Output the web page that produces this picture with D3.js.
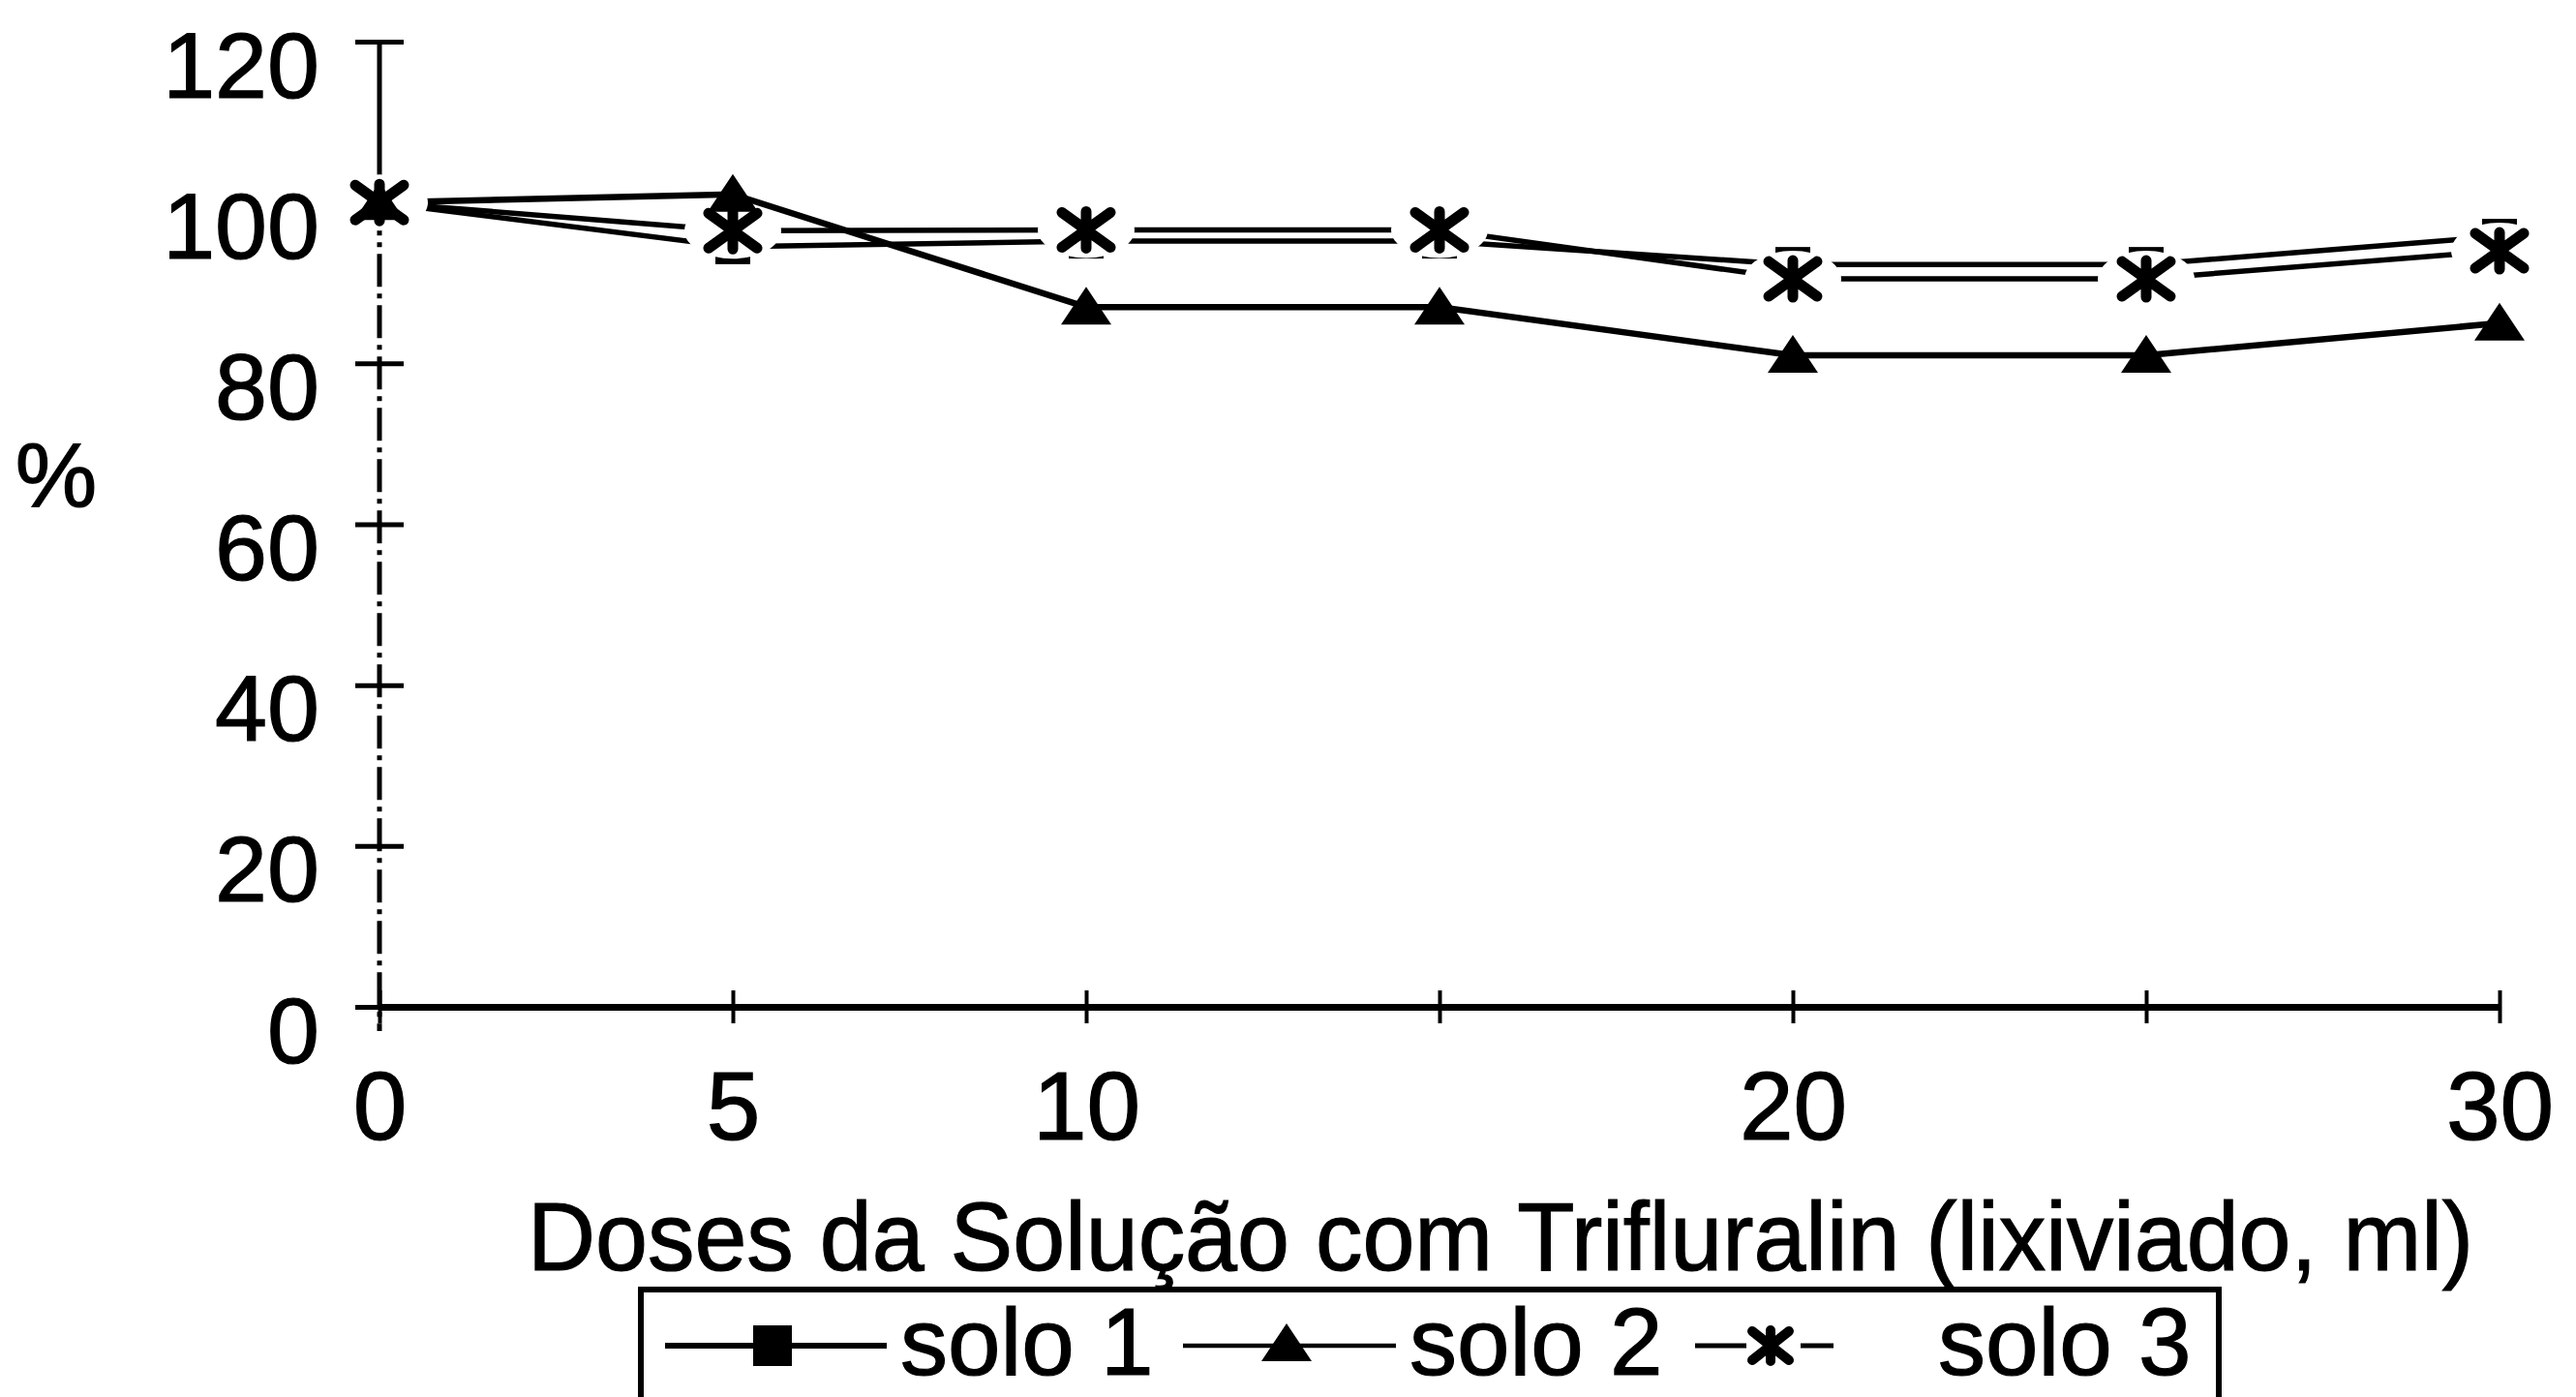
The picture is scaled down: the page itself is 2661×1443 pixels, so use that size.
<!DOCTYPE html>
<html><head><meta charset="utf-8">
<script src="https://cdn.jsdelivr.net/npm/d3@7"></script>
<style>
body{margin:0;background:#fff}
svg{display:block;background:#fff}
text{font-family:"Liberation Sans",Arial,sans-serif;fill:#000;stroke:#000;stroke-width:1.2px}
</style>
</head><body>
<svg id="c" width="2661" height="1443"></svg>
<script>
// ---- data ----
const doses = [0, 5, 10, 15, 20, 25, 30];
const solo1 = [100, 94.5, 95.2, 95.2, 92.3, 92.3, 95.8];
const solo2 = [100, 101, 87, 87, 81, 81, 85];
const solo3 = [100, 96.5, 96.6, 96.6, 90.5, 90.5, 94];
const yTicks = [0, 20, 40, 60, 80, 100, 120];
const xTicks = [0, 5, 10, 15, 20, 25, 30];
const xTickLabels = ["0", "5", "10", "", "20", "", "30"];
const seriesNames = ["solo 1", "solo 2", "solo 3"];
const xTitle = "Doses da Solução com Trifluralin (lixiviado, ml)";
const yTitle = "%";

// ---- layout ----
const svg = d3.select("#c");
const x = d3.scaleLinear().domain([0, 30]).range([392, 2582]);
const y = d3.scaleLinear().domain([0, 120]).range([1040, 43]);

// y axis
const yAxis = d3.axisLeft(y).tickValues(yTicks).tickSize(25).tickSizeOuter(0).tickFormat(d3.format("d"));
const gy = svg.append("g").attr("transform", `translate(${x(0)},0)`).call(yAxis);
gy.select(".domain").remove();
gy.selectAll(".tick line").attr("x1", -25).attr("x2", 25).attr("stroke", "#000").attr("stroke-width", 5);
gy.selectAll(".tick text").attr("x", -62).attr("dy", 0).attr("y", 57)
  .attr("font-size", 97).attr("font-family", "Liberation Sans, Arial, sans-serif").attr("fill", "#000");
// axis line: solid above 100, broken below
svg.append("line").attr("x1", x(0)).attr("x2", x(0)).attr("y1", y(120)).attr("y2", y(100))
  .attr("stroke", "#000").attr("stroke-width", 5);
svg.append("line").attr("x1", x(0)).attr("x2", x(0)).attr("y1", y(100)).attr("y2", y(0) + 25)
  .attr("stroke", "#000").attr("stroke-width", 5).attr("stroke-dasharray", "34,7,5,7");

// x axis
const xAxis = d3.axisBottom(x).tickValues(xTicks).tickSize(15).tickSizeOuter(0)
  .tickFormat((d, i) => xTickLabels[i]);
const gx = svg.append("g").attr("transform", `translate(0,${y(0)})`).call(xAxis);
gx.select(".domain").attr("stroke", "#000").attr("stroke-width", 7);
gx.selectAll(".tick line").attr("y1", -17).attr("y2", 17).attr("stroke", "#000").attr("stroke-width", 4);
gx.selectAll(".tick text").attr("y", 137).attr("dy", 0)
  .attr("font-size", 100).attr("font-family", "Liberation Sans, Arial, sans-serif").attr("fill", "#000");

// titles
svg.append("text").attr("x", 1550).attr("y", 1312).attr("text-anchor", "middle")
  .attr("font-size", 100).attr("textLength", 2010).attr("lengthAdjust", "spacingAndGlyphs").text(xTitle);
svg.append("text").attr("x", 58).attr("y", 523).attr("text-anchor", "middle")
  .attr("font-size", 95).text(yTitle);

// ---- series ----
const pts = (arr) => doses.map((d, i) => [d, arr[i]]);
const line = d3.line().x(d => x(d[0])).y(d => y(d[1]));
const series = [solo1, solo2, solo3];
series.forEach((s, k) => {
  svg.append("path").attr("d", line(pts(s))).attr("fill", "none")
    .attr("stroke", "#000").attr("stroke-width", k === 1 ? 6.5 : 5.5).attr("stroke-linejoin", "round");
});

const triPath = "M0,-21L26,18L-26,18Z";
const starPath = "M-25,-18L25,18M-25,18L25,-18M0,-19L0,19";

// squares (solo 1)
svg.append("g").selectAll("rect").data(pts(solo1)).join("rect")
  .attr("x", d => x(d[0]) - 18).attr("y", d => y(d[1]) - 18).attr("width", 36).attr("height", 36).attr("fill", "#000");
// white halos around star markers
svg.append("g").selectAll("ellipse").data(pts(solo3)).join("ellipse")
  .attr("cx", d => x(d[0])).attr("cy", d => y(d[1])).attr("rx", 50).attr("ry", 29).attr("fill", "#fff");
// triangles (solo 2)
svg.append("g").selectAll("path").data(pts(solo2)).join("path")
  .attr("transform", d => `translate(${x(d[0])},${y(d[1])})`).attr("d", triPath).attr("fill", "#000");
// stars (solo 3)
svg.append("g").selectAll("path").data(pts(solo3)).join("path")
  .attr("transform", d => `translate(${x(d[0])},${y(d[1])})`).attr("d", starPath)
  .attr("fill", "none").attr("stroke", "#000").attr("stroke-width", 11).attr("stroke-linecap", "round");

// ---- legend ----
const lg = svg.append("g");
lg.append("rect").attr("x", 662).attr("y", 1332).attr("width", 1630).attr("height", 200)
  .attr("fill", "none").attr("stroke", "#000").attr("stroke-width", 6);
const ly = 1390;
const ty = 1420;
// solo 1
lg.append("line").attr("x1", 687).attr("x2", 916).attr("y1", ly).attr("y2", ly).attr("stroke", "#000").attr("stroke-width", 6);
lg.append("rect").attr("x", 798 - 20).attr("y", ly - 21).attr("width", 40).attr("height", 42).attr("fill", "#000");
lg.append("text").attr("x", 930).attr("y", ty).attr("font-size", 98).text(seriesNames[0]);
// solo 2
lg.append("line").attr("x1", 1222).attr("x2", 1442).attr("y1", ly).attr("y2", ly).attr("stroke", "#000").attr("stroke-width", 4.5);
lg.append("path").attr("transform", `translate(1329,${ly - 2})`).attr("d", triPath).attr("fill", "#000");
lg.append("text").attr("x", 1456).attr("y", ty).attr("font-size", 98).text(seriesNames[1]);
// solo 3
lg.append("line").attr("x1", 1751).attr("x2", 1804).attr("y1", ly).attr("y2", ly).attr("stroke", "#000").attr("stroke-width", 5);
lg.append("line").attr("x1", 1860).attr("x2", 1894).attr("y1", ly).attr("y2", ly).attr("stroke", "#000").attr("stroke-width", 5);
lg.append("path").attr("transform", `translate(1829,${ly})`).attr("d", "M-19,-15L19,15M-19,15L19,-15M0,-16L0,16")
  .attr("fill", "none").attr("stroke", "#000").attr("stroke-width", 10).attr("stroke-linecap", "round");
lg.append("text").attr("x", 2002).attr("y", ty).attr("font-size", 98).text(seriesNames[2]);
</script>
</body></html>
